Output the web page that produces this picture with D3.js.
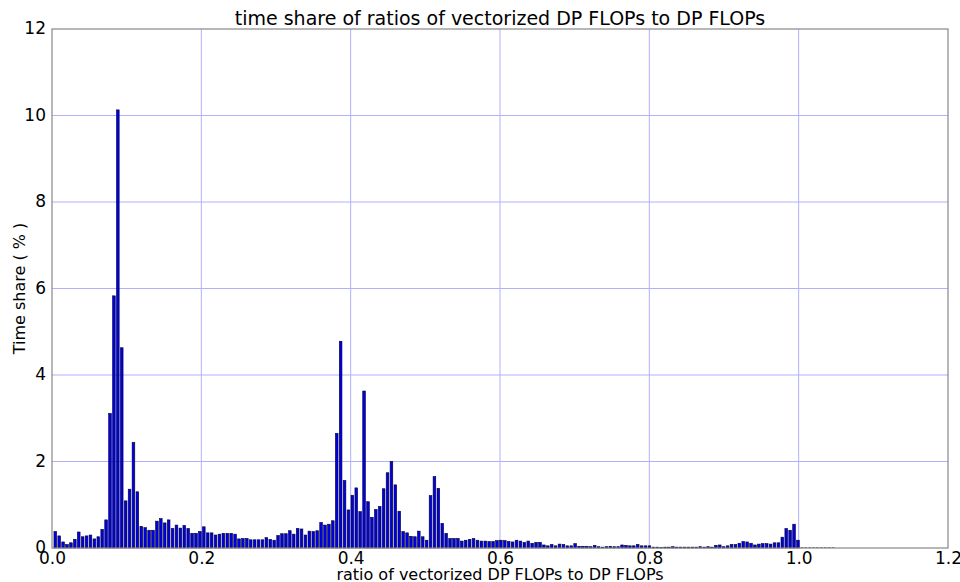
<!DOCTYPE html>
<html>
<head>
<meta charset="utf-8">
<script src="https://cdn.jsdelivr.net/npm/d3@7"></script>
<style>
  html, body { margin: 0; padding: 0; background: #ffffff; }
  svg text { font-family: "DejaVu Sans", sans-serif; fill: #000; }
</style>
</head>
<body>
<svg id="chart" width="960" height="582"></svg>
<script>
// ---- data ----
const title = "time share of ratios of vectorized DP FLOPs to DP FLOPs";
const xLabel = "ratio of vectorized DP FLOPs to DP FLOPs";
const yLabel = "Time share ( % )";
const xTicks = [0.0, 0.2, 0.4, 0.6, 0.8, 1.0, 1.2];
const yTicks = [0, 2, 4, 6, 8, 10, 12];
const firstBin = 0.0044;     // ratio of the first bin
const binWidth = 0.005235;   // ratio step between bins
const timeShare = [
  0.38, 0.28, 0.14, 0.08, 0.12, 0.20, 0.37, 0.26, 0.28, 0.30,
  0.21, 0.26, 0.43, 0.65, 3.11, 5.83, 10.13, 4.63, 1.09, 1.36,
  2.44, 1.30, 0.50, 0.47, 0.41, 0.41, 0.62, 0.68, 0.58, 0.65,
  0.45, 0.53, 0.46, 0.52, 0.45, 0.34, 0.34, 0.38, 0.49, 0.35,
  0.35, 0.30, 0.32, 0.34, 0.34, 0.34, 0.32, 0.21, 0.22, 0.22,
  0.19, 0.19, 0.19, 0.19, 0.24, 0.20, 0.18, 0.29, 0.33, 0.33,
  0.40, 0.32, 0.45, 0.44, 0.30, 0.39, 0.38, 0.40, 0.59, 0.53,
  0.55, 0.63, 2.65, 4.78, 1.56, 0.88, 1.22, 1.39, 0.84, 3.63,
  1.07, 0.71, 0.89, 0.96, 1.37, 1.74, 2.00, 1.46, 0.85, 0.38,
  0.35, 0.27, 0.26, 0.39, 0.26, 0.18, 1.21, 1.65, 1.38, 0.57,
  0.34, 0.22, 0.22, 0.22, 0.16, 0.18, 0.20, 0.22, 0.18, 0.16,
  0.16, 0.15, 0.15, 0.17, 0.18, 0.17, 0.15, 0.14, 0.18, 0.16,
  0.13, 0.16, 0.11, 0.13, 0.13, 0.07, 0.05, 0.08, 0.05, 0.09,
  0.08, 0.05, 0.05, 0.10, 0.04, 0.04, 0.04, 0.03, 0.06, 0.03,
  0.02, 0.03, 0.04, 0.03, 0.03, 0.07, 0.06, 0.05, 0.05, 0.08,
  0.05, 0.05, 0.05, 0.02, 0.02, 0.01, 0.02, 0.02, 0.03, 0.02,
  0.02, 0.02, 0.02, 0.02, 0.02, 0.03, 0.02, 0.03, 0.02, 0.06,
  0.07, 0.03, 0.05, 0.08, 0.08, 0.11, 0.15, 0.14, 0.11, 0.07,
  0.09, 0.10, 0.10, 0.09, 0.12, 0.12, 0.25, 0.45, 0.41, 0.55,
  0.18, 0, 0, 0, 0, 0, 0, 0, 0, 0
];

// ---- layout ----
const W = 960, H = 582;
const m = { left: 52, right: 12, top: 29, bottom: 34 };
const pw = W - m.left - m.right, ph = H - m.top - m.bottom;

const svg = d3.select("#chart");
const g = svg.append("g").attr("transform", `translate(${m.left},${m.top})`);

const x = d3.scaleLinear().domain([0, 1.2]).range([0, pw]);
const y = d3.scaleLinear().domain([0, 12]).range([ph, 0]);

// grid
g.append("g").selectAll("line").data(xTicks.slice(1, -1)).join("line")
  .attr("x1", d => x(d)).attr("x2", d => x(d))
  .attr("y1", 0).attr("y2", ph)
  .attr("stroke", "#b0b0ff").attr("stroke-width", 1);
g.append("g").selectAll("line").data(yTicks.slice(1, -1)).join("line")
  .attr("x1", 0).attr("x2", pw)
  .attr("y1", d => y(d)).attr("y2", d => y(d))
  .attr("stroke", "#b0b0ff").attr("stroke-width", 1);

// bars
const bins = timeShare.map((v, i) => ({ r: firstBin + i * binWidth, v }));
const bw = x(binWidth * 0.68) - x(0);
g.append("g").selectAll("rect").data(bins.filter(d => d.v > 0)).join("rect")
  .attr("x", d => x(d.r) - bw / 2)
  .attr("width", bw)
  .attr("y", d => y(d.v))
  .attr("height", d => y(0) - y(d.v))
  .attr("fill", "#0000e6")
  .attr("stroke", "#000030")
  .attr("stroke-width", 0.6);
g.append("g").selectAll("line").data(bins.filter(d => d.v === 0)).join("line")
  .attr("x1", d => x(d.r) - bw / 2)
  .attr("x2", d => x(d.r) + bw / 2)
  .attr("y1", y(0) - 0.5).attr("y2", y(0) - 0.5)
  .attr("stroke", "#777").attr("stroke-width", 1);

// frame
g.append("rect").attr("x", 0).attr("y", 0).attr("width", pw).attr("height", ph)
  .attr("fill", "none").attr("stroke", "#888").attr("stroke-width", 1.2);

// axes
const xAxis = g.append("g").attr("transform", `translate(0,${ph})`)
  .call(d3.axisBottom(x).tickValues(xTicks).tickFormat(d3.format(".1f")).tickSize(0).tickPadding(4));
const yAxis = g.append("g")
  .call(d3.axisLeft(y).tickValues(yTicks).tickFormat(d3.format("d")).tickSize(0).tickPadding(6));
[xAxis, yAxis].forEach(a => {
  a.select(".domain").remove();
  a.selectAll("text").attr("font-size", 17).attr("font-family", "DejaVu Sans, sans-serif").attr("fill", "#000");
});
yAxis.selectAll("text").attr("dy", "0.28em");

// titles
svg.append("text").attr("x", m.left + pw / 2).attr("y", 25)
  .attr("text-anchor", "middle").attr("font-size", 19).text(title);
svg.append("text").attr("x", m.left + pw / 2).attr("y", 580)
  .attr("text-anchor", "middle").attr("font-size", 16).text(xLabel);
svg.append("text").attr("transform", `translate(25,${m.top + ph / 2}) rotate(-90)`)
  .attr("text-anchor", "middle").attr("font-size", 16).text(yLabel);
</script>
</body>
</html>
